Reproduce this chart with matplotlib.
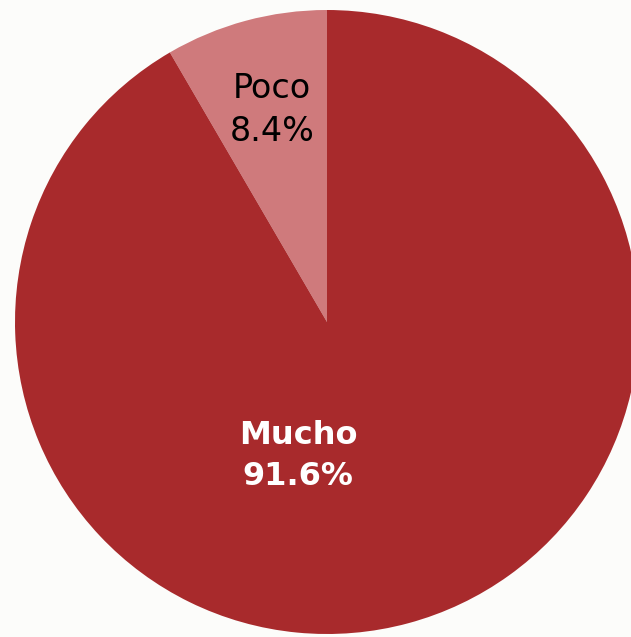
import matplotlib.pyplot as plt

labels = ["Mucho", "Poco"]
values = [91.6, 8.4]
colors = ["#A82A2C", "#CF7A7C"]
text_colors = ["white", "black"]
text_weights = ["bold", "normal"]
text_sizes = [23, 24]

W, H = 631, 637
fig = plt.figure(figsize=(W / 100, H / 100), dpi=100)
fig.patch.set_facecolor("#FCFCFA")
ax = fig.add_axes([0, 0, 1, 1])

cx, cy, r = 327, H - 322, 312
# "Poco" sits left of 12 o'clock, so draw counter-clockwise starting with it
wedges, _ = ax.pie(values[::-1], colors=colors[::-1], startangle=90,
                   center=(cx, cy), radius=r,
                   wedgeprops=dict(edgecolor="none"))

# label positions in pixels (from top-left)
label_pos = {"Mucho": (298, 456), "Poco": (272, 110)}
for name, val, tc, tw, fs in zip(labels, values, text_colors, text_weights, text_sizes):
    px, py = label_pos[name]
    ax.text(px, H - py, f"{name}\n{val}%", ha="center", va="center",
            color=tc, fontweight=tw, fontsize=fs, linespacing=1.38,
            family="DejaVu Sans")

ax.set_xlim(0, W)
ax.set_ylim(0, H)
ax.set_aspect("auto")
ax.axis("off")
fig.savefig("out.png", dpi=100, facecolor=fig.get_facecolor())
